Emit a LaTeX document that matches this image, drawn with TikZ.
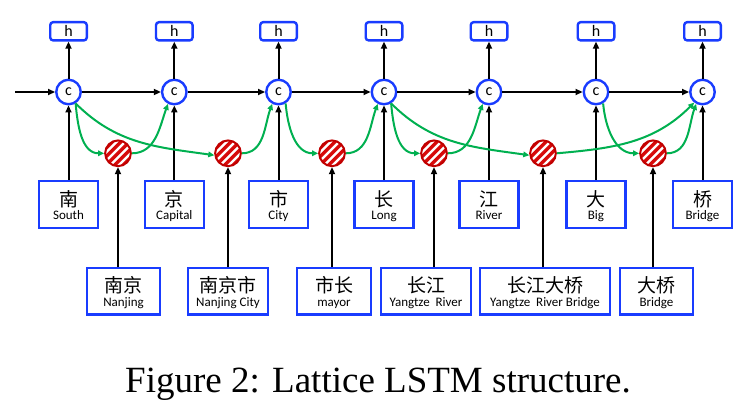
\documentclass[tikz,border=0pt]{standalone}
\usepackage{fontspec}
\setmainfont{Carlito}
\newfontfamily\cjk{Noto Sans CJK SC}
\newfontfamily\capfont{Liberation Serif}
\usetikzlibrary{arrows.meta}
\definecolor{cblue}{RGB}{25,60,255}
\definecolor{cred}{RGB}{192,0,0}
\definecolor{sred}{RGB}{215,10,10}
\definecolor{cgreen}{RGB}{0,176,80}
\newcommand\twol[2]{{\cjk\fontsize{19}{13.5}\selectfont\rule{0pt}{20.5pt}#1}\\\strut #2}
\begin{document}
\begin{tikzpicture}[x=1pt,y=1pt,
  cell/.style={circle,draw=cblue,line width=2.4pt,minimum size=24.5pt,inner sep=0pt,fill=white,font=\fontsize{16}{16}\selectfont},
  hbox/.style={draw=cblue,line width=2.4pt,rounded corners=3pt,minimum width=36.6pt,minimum height=18.3pt,inner sep=0pt,font=\fontsize{16}{16}\selectfont},
  charbox/.style={draw=cblue,line width=2.4pt,minimum width=59.2pt,minimum height=46.9pt,inner sep=0pt,align=center,font=\fontsize{13}{13.5}\selectfont},
  wordbox/.style={charbox,minimum width=#1,minimum height=46.6pt},
  wnode/.style={circle,draw=cred,line width=2pt,minimum size=25.7pt,inner sep=0pt,fill=white,
    path picture={\begin{scope}[shift={(path picture bounding box.center)}]
      \foreach \k in {-4,...,4}{\draw[sred,line width=3.4pt] (\k*8.5-20,-20) -- (\k*8.5+20,20);}
    \end{scope}}},
  arr/.style={draw=black,line width=2pt,-{Triangle[length=7pt,width=6pt]}},
  garr/.style={draw=cgreen,line width=2pt,-{Triangle[length=6pt,width=5.5pt]}}
]
\path[use as bounding box] (0,0) rectangle (754,-406);

% cells
\foreach \i/\x in {1/68.5,2/174.3,3/278.5,4/384,5/489,6/596,7/702.5}{
  \node[cell] (c\i) at (\x,-92) {c};
  \node[hbox] (h\i) at (\x,-31.3) {h};
}
% character boxes
\node[charbox] (ch1) at (68.5,-204.6)  {\twol{南}{South}};
\node[charbox] (ch2) at (174.3,-204.6) {\twol{京}{Capital}};
\node[charbox] (ch3) at (278.5,-204.6) {\twol{市}{City}};
\node[charbox] (ch4) at (384,-204.6)   {\twol{长}{Long}};
\node[charbox] (ch5) at (489,-204.6)   {\twol{江}{River}};
\node[charbox] (ch6) at (596,-204.6)   {\twol{大}{Big}};
\node[charbox] (ch7) at (702.5,-204.6) {\twol{桥}{Bridge}};

% word cells
\foreach \i/\x in {1/118,2/228,3/332,4/434,5/543,6/653}{
  \node[wnode] (r\i) at (\x,-153.3) {};
}
% word boxes
\node[wordbox=72.6pt]  (w1) at (123.5,-291.2) {\twol{南京}{Nanjing}};
\node[wordbox=79.6pt]  (w2) at (228,-291.2)   {\twol{南京市}{Nanjing City}};
\node[wordbox=73.6pt]  (w3) at (334,-291.2)   {\twol{市长}{mayor}};
\node[wordbox=89.6pt]  (w4) at (426,-291.2)   {\twol{长江}{Yangtze\ \ River}};
\node[wordbox=129.6pt] (w5) at (545,-291.2)   {\twol{长江大桥}{Yangtze\ \ River Bridge}};
\node[wordbox=72.6pt]  (w6) at (656.5,-291.2) {\twol{大桥}{Bridge}};

% black arrows
\coordinate (start) at (15,-92);
\draw[arr] (start) -- (c1);
\foreach \i/\j in {1/2,2/3,3/4,4/5,5/6,6/7}{
  \draw[arr] (c\i) -- (c\j);
}
\foreach \i in {1,...,7}{
  \draw[arr] (ch\i.north) -- (c\i.south);
  \draw[arr] (c\i.north) -- (h\i.south);
}
\foreach \i in {1,...,6}{
  \draw[arr] (r\i |- w\i.north) -- (r\i.south);
}

% green arrows
\draw[garr] (c1.-58) to[out=-85,in=180] (r1.west);
\draw[garr] (r1.east) to[out=0,in=-110] (c2.-118);
\draw[garr] (c1.-58) to[out=-45,in=172] (r2.188);
\draw[garr] (r2.east) to[out=0,in=-110] (c3.-118);
\draw[garr] (c3.-58) to[out=-85,in=180] (r3.west);
\draw[garr] (r3.east) to[out=0,in=-110] (c4.-118);
\draw[garr] (c4.-58) to[out=-85,in=180] (r4.west);
\draw[garr] (r4.east) to[out=0,in=-110] (c5.-118);
\draw[garr] (c4.-58) to[out=-45,in=172] (r5.188);
\draw[garr] (r5.east) to[out=5,in=-135] (c7.-128);
\draw[garr] (c6.-58) to[out=-85,in=180] (r6.west);
\draw[garr] (r6.east) to[out=0,in=-110] (c7.-118);

% caption
\node[anchor=base,font=\capfont\fontsize{37}{40}\selectfont,inner sep=0pt] (cap) at (378,-392.7) {Figure 2: Lattice LSTM structure.};
\end{tikzpicture}
\end{document}
